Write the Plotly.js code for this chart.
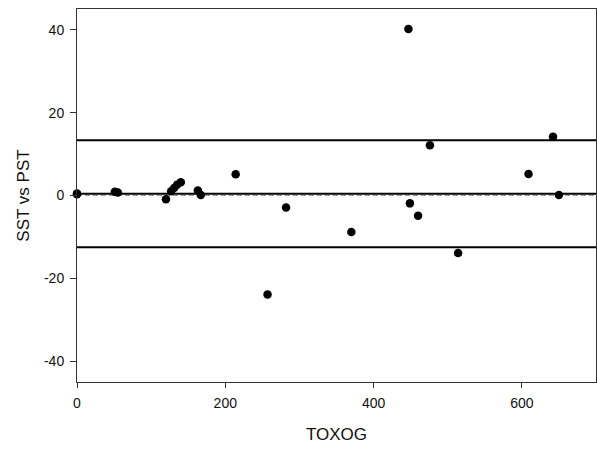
<!DOCTYPE html>
<html>
<head>
<meta charset="utf-8">
<script src="https://cdn.plot.ly/plotly-3.0.1.min.js"></script>
<style>html,body{margin:0;padding:0;background:#fff;}#chart{width:597px;height:451px;}</style>
</head>
<body>
<div id="chart"></div>
<script>
// TOXOG (x) and SST vs PST difference (y)
var toxog = [0, 0, 51, 55, 120, 127, 131, 135, 140, 163, 167, 214, 257, 282, 370, 447, 449, 460, 476, 514, 609, 642, 650];
var diff  = [0.3, 0.5, 0.9, 0.7, -0.9, 1.0, 1.8, 2.6, 3.2, 1.2, 0.1, 5.1, -23.9, -2.9, -8.8, 40.2, -1.9, -4.9, 12.1, -13.9, 5.2, 14.2, 0.1];

var meanDiff = 0.45;
var upperLimit = 13.35;
var lowerLimit = -12.5;
var zeroLine = 0;

var xTickVals = [0, 200, 400, 600];
var xTickText = ['0', '200', '400', '600'];
var yTickVals = [-40, -20, 0, 20, 40];
var yTickText = ['-40', '-20', '0', '20', '40'];

var trace = {
  x: toxog, y: diff, type: 'scatter', mode: 'markers',
  marker: {color: '#000', size: 8.5},
  cliponaxis: false, hoverinfo: 'skip'
};

function hline(y, color, width, dash) {
  return {type: 'line', xref: 'paper', x0: 0, x1: 1, yref: 'y', y0: y, y1: y,
          line: {color: color, width: width, dash: dash}, layer: 'below'};
}

var layout = {
  width: 597, height: 451,
  margin: {l: 77, r: 1, t: 9, b: 69},
  paper_bgcolor: '#fff', plot_bgcolor: '#fff',
  showlegend: false,
  font: {family: 'Liberation Sans, Arial, sans-serif', color: '#111', size: 14},
  xaxis: {
    range: [0, 700], tickmode: 'array', tickvals: xTickVals, ticktext: xTickText,
    ticks: 'outside', ticklen: 5, tickwidth: 1, tickcolor: '#333',
    ticklabelstandoff: 3,
    showgrid: false, zeroline: false, showline: true, linecolor: '#333', linewidth: 1, mirror: true,
    tickfont: {size: 14},
    title: {text: 'TOXOG', font: {size: 17}, standoff: 18}
  },
  yaxis: {
    range: [-45, 45], tickmode: 'array', tickvals: yTickVals, ticktext: yTickText,
    ticks: 'outside', ticklen: 6, tickwidth: 1, tickcolor: '#333',
    ticklabelstandoff: 3,
    showgrid: false, zeroline: false, showline: true, linecolor: '#333', linewidth: 1, mirror: true,
    tickfont: {size: 14},
    title: {text: 'SST vs PST', font: {size: 17}, standoff: 10}
  },
  shapes: [
    hline(zeroLine, '#999', 1, '5px,3px'),
    hline(meanDiff, '#000', 2, 'solid'),
    hline(upperLimit, '#000', 2, 'solid'),
    hline(lowerLimit, '#000', 2, 'solid')
  ]
};

Plotly.newPlot('chart', [trace], layout, {staticPlot: true, displayModeBar: false});
</script>
</body>
</html>
